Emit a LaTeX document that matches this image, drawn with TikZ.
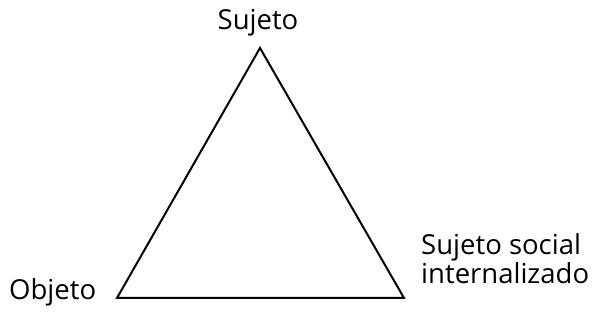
\documentclass[tikz,border=0pt]{standalone}
\usepackage{fontspec}
\setmainfont{Open Sans}
\begin{document}
\begin{tikzpicture}[x=1pt,y=-1pt,
  lbl/.style={inner sep=0pt,font=\fontsize{27.5}{29.5}\selectfont},
  edge/.style={line width=2pt,line join=miter}]
\useasboundingbox (0,0) rectangle (592,320);
\coordinate (S) at (260,48);
\coordinate (O) at (117,298);
\coordinate (I) at (404,298);
\draw[edge] (S) -- (O) -- (I) -- cycle;
\node[lbl,anchor=base] (ls) at (258,30) {Sujeto};
\node[lbl,anchor=base west] (lo) at (9,300) {Objeto};
\node[lbl,anchor=base west,align=left] (li) at (421,284) {Sujeto social\\internalizado};
\end{tikzpicture}
\end{document}
